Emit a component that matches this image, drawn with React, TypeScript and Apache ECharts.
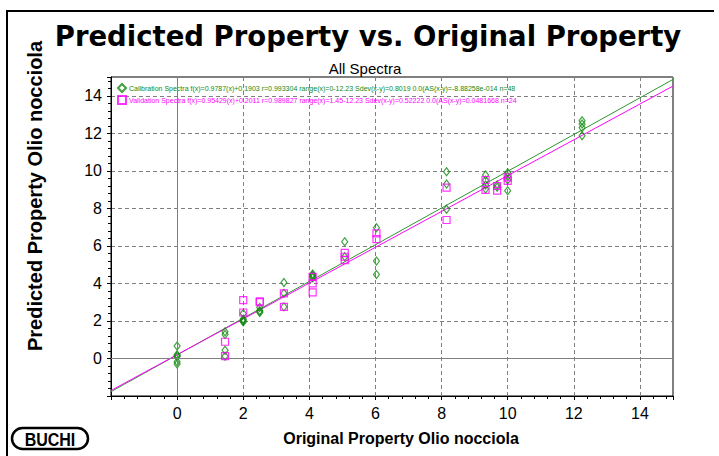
import { useEffect, useRef } from 'react';
import * as echarts from 'echarts';

// Calibration spectra (original, predicted)
const calX = [
  0, 0, 0, 0, 0, 0,
  1.45, 1.45, 1.45, 1.45,
  2.0, 2.0, 2.0, 2.0, 2.0,
  2.5, 2.5, 2.5, 2.5,
  3.23, 3.23, 3.23,
  4.1, 4.1, 4.1, 4.1,
  5.07, 5.07,
  6.03, 6.03, 6.03,
  8.15, 8.15, 8.15,
  9.33, 9.33, 9.33, 9.33,
  9.68, 9.68,
  10.0, 10.0, 10.0, 10.0,
  12.25, 12.25, 12.25, 12.25,
];
const calY = [
  0.66, 0.2, 0.15, 0.1, -0.18, -0.3,
  1.42, 1.28, 0.44, 0.12,
  2.4, 2.1, 2.05, 1.98, 1.95,
  2.72, 2.55, 2.5, 2.45,
  4.05, 3.47, 2.75,
  4.5, 4.44, 4.38, 4.3,
  6.22, 5.42,
  6.97, 5.19, 4.48,
  9.95, 9.3, 7.95,
  9.78, 9.5, 9.24, 9.03,
  9.24, 9.12,
  9.9, 9.7, 9.51, 8.94,
  12.67, 12.5, 12.3, 11.87,
];

// Validation spectra (original, predicted)
const valX = [
  1.45, 1.45,
  2.0, 2.0,
  2.5, 2.5,
  3.23, 3.23,
  4.1, 4.1, 4.1,
  5.07, 5.07, 5.07,
  6.03, 6.03,
  8.15, 8.15,
  9.33, 9.33,
  9.68, 9.68,
  10.0, 10.0,
];
const valY = [
  0.89, 0.12,
  3.11, 2.45,
  3.05, 3.0,
  3.47, 2.75,
  4.35, 4.0, 3.52,
  5.63, 5.42, 5.24,
  6.67, 6.36,
  9.1, 7.38,
  9.51, 8.98,
  9.19, 8.94,
  9.65, 9.46,
];

// Regression fits
const calFit = [0.9787, 0.1903]; // slope, intercept
const valFit = [0.95429, 0.2011];

const axisMin = -2;
const axisMax = 15;
const tickStep = 2;

const calName = 'Calibration Spectra';
const valName = 'Validation Spectra';
const calLegend =
  'Calibration Spectra f(x)=0.9787(x)+0.1903 r=0.993304 range(x)=0-12.23 Sdev(x-y)=0.8019 0.0(AS(x-y)=-8.88258e-014 n=48';
const valLegend =
  'Validation Spectra f(x)=0.95429(x)+0.2011 r=0.989827 range(x)=1.45-12.23 Sdev(x-y)=0.52222 0.0(AS(x-y)=0.0481668 n=24';

const titleText = 'Predicted Property vs. Original Property';
const subTitleText = 'All Spectra';
const xLabel = 'Original Property Olio nocciola';
const yLabel = 'Predicted Property Olio nocciola';

const GREEN = '#118a11';
const GREEN_LINE = '#2e962e';
const MAGENTA = '#ff00ff';
const GRID_GRAY = '#808080';

export default function App() {
  const ref = useRef<HTMLDivElement>(null);

  useEffect(() => {
    if (!ref.current) return;
    const chart = echarts.init(ref.current, undefined, { renderer: 'svg' });

    const calData = calX.map((x, i) => [x, calY[i]]);
    const valData = valX.map((x, i) => [x, valY[i]]);
    const fitLine = (f: number[]) => [
      [axisMin, f[0] * axisMin + f[1]],
      [axisMax, f[0] * axisMax + f[1]],
    ];

    const axisCommon = {
      type: 'value' as const,
      min: axisMin,
      max: axisMax,
      interval: tickStep,
      axisLine: { show: true, onZero: false, lineStyle: { color: '#000', width: 1 } },
      axisTick: { show: true, inside: false, length: 4, lineStyle: { color: '#000' } },
      minorTick: { show: true, splitNumber: 5, length: 3, lineStyle: { color: '#000' } },
      splitLine: { show: true, lineStyle: { color: GRID_GRAY, type: [4, 3] as any, width: 1 } },
      axisLabel: {
        showMinLabel: false,
        showMaxLabel: false,
        color: '#000',
        fontSize: 16,
        fontFamily: 'Liberation Sans, Arial, sans-serif',
      },
    };

    chart.setOption({
      animation: false,
      backgroundColor: '#fff',
      grid: {
        left: 111,
        right: 46,
        top: 77,
        bottom: 60,
        show: true,
        borderColor: '#000',
        borderWidth: 1,
        backgroundColor: 'transparent',
      },
      legend: {
        orient: 'vertical',
        left: 117,
        top: 83,
        padding: 0,
        itemGap: 2,
        itemWidth: 8,
        itemHeight: 8,
        selectedMode: false,
        data: [
          { name: calName, textStyle: { color: GREEN } },
          { name: valName, textStyle: { color: MAGENTA } },
        ],
        formatter: (n: string) => (n === calName ? calLegend : valLegend),
        textStyle: { fontSize: 7, fontFamily: 'Liberation Sans, Arial, sans-serif', padding: [0, 0, 0, -2] },
      },
      xAxis: { ...axisCommon, axisLabel: { ...axisCommon.axisLabel, margin: 9 } },
      yAxis: { ...axisCommon, axisLabel: { ...axisCommon.axisLabel, margin: 9 } },
      series: [
        {
          type: 'line',
          name: 'zero',
          data: [],
          silent: true,
          markLine: {
            silent: true,
            symbol: 'none',
            label: { show: false },
            lineStyle: { color: GRID_GRAY, type: 'solid', width: 1 },
            data: [{ xAxis: 0 }, { yAxis: 0 }],
          },
        },
        {
          type: 'line',
          name: 'calFit',
          data: fitLine(calFit),
          showSymbol: false,
          silent: true,
          lineStyle: { color: GREEN_LINE, width: 1 },
          z: 3,
        },
        {
          type: 'line',
          name: 'valFit',
          data: fitLine(valFit),
          showSymbol: false,
          silent: true,
          lineStyle: { color: MAGENTA, width: 1 },
          z: 3,
        },
        {
          type: 'scatter',
          name: calName,
          data: calData,
          symbol: 'diamond',
          symbolSize: [6, 8],
          itemStyle: { color: 'rgba(0,0,0,0)', borderColor: GREEN, borderWidth: 1.2 },
          z: 4,
        },
        {
          type: 'scatter',
          name: valName,
          data: valData,
          symbol: 'rect',
          symbolSize: 7,
          itemStyle: { color: 'rgba(0,0,0,0)', borderColor: MAGENTA, borderWidth: 1.2 },
          z: 5,
        },
      ],
      graphic: [
        {
          type: 'polyline',
          shape: { points: [[7, 456], [7, 11], [714, 11]] },
          style: { stroke: '#000', lineWidth: 2, fill: 'none' },
        },
        {
          type: 'text',
          x: 368,
          y: 36,
          style: {
            text: titleText,
            fontFamily: 'DejaVu Sans, sans-serif',
            fontWeight: 'bold',
            fontSize: 27.5,
            fill: '#000',
            align: 'center',
            verticalAlign: 'middle',
          },
        },
        {
          type: 'text',
          x: 365,
          y: 68,
          style: {
            text: subTitleText,
            fontFamily: 'Liberation Sans, Arial, sans-serif',
            fontSize: 15,
            fill: '#000',
            align: 'center',
            verticalAlign: 'middle',
          },
        },
        {
          type: 'text',
          x: 401,
          y: 438,
          style: {
            text: xLabel,
            fontFamily: 'Liberation Sans, Arial, sans-serif',
            fontWeight: 'bold',
            fontSize: 16,
            fill: '#000',
            align: 'center',
            verticalAlign: 'middle',
          },
        },
        {
          type: 'text',
          x: 35,
          y: 196,
          rotation: Math.PI / 2,
          style: {
            text: yLabel,
            fontFamily: 'Liberation Sans, Arial, sans-serif',
            fontWeight: 'bold',
            fontSize: 20,
            fill: '#000',
            align: 'center',
            verticalAlign: 'middle',
          },
        },
        {
          type: 'rect',
          shape: { x: 12, y: 428, width: 76, height: 21, r: 10.5 },
          style: { fill: '#fff', stroke: '#000', lineWidth: 2.5 },
        },
        {
          type: 'text',
          x: 50,
          y: 439,
          scaleY: 1.2,
          style: {
            text: 'BUCHI',
            fontFamily: 'Liberation Sans Narrow, Arial Narrow, sans-serif',
            fontWeight: 'bold',
            fontSize: 16,
            fill: '#000',
            align: 'center',
            verticalAlign: 'middle',
          },
        },
      ],
    });

    return () => chart.dispose();
  }, []);

  return (
    <div
      ref={ref}
      style={{ position: 'fixed', left: 0, top: 0, width: 719, height: 456, background: '#fff' }}
    />
  );
}
